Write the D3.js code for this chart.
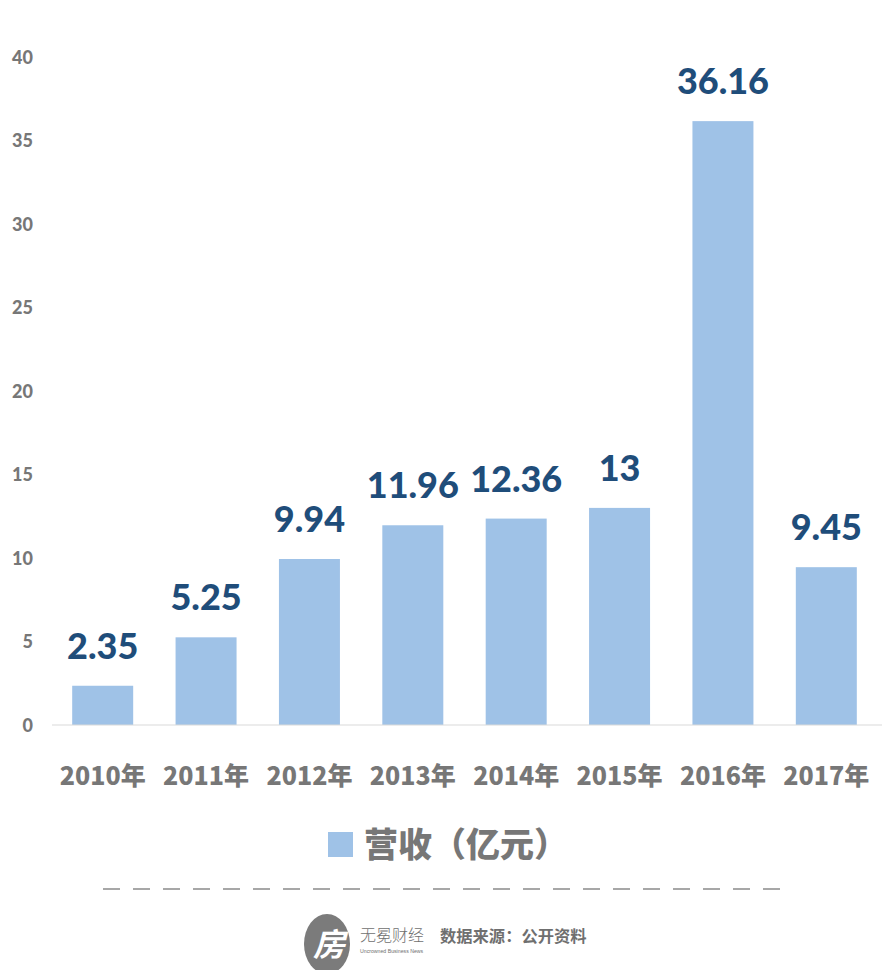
<!DOCTYPE html>
<html><head><meta charset="utf-8">
<script src="https://cdn.jsdelivr.net/npm/d3@7"></script>
<style>
html,body{margin:0;padding:0;background:#fff;}
svg{display:block;}
</style></head>
<body>
<script>
const categories = ["2010年","2011年","2012年","2013年","2014年","2015年","2016年","2017年"];
const revenue = [2.35, 5.25, 9.94, 11.96, 12.36, 13, 36.16, 9.45];
const valueLabels = ["2.35","5.25","9.94","11.96","12.36","13","36.16","9.45"];
const yTicks = [0,5,10,15,20,25,30,35,40];
const seriesName = "营收（亿元）";
const sourceText = "数据来源：公开资料";
const brandName = "无冕财经";
const brandSub = "Uncrowned Business News";

const W = 890, H = 970;
const svg = d3.select("body").append("svg").attr("width", W).attr("height", H);

const x = d3.scaleBand().domain(categories).range([51, 878]).paddingInner(0.41).paddingOuter(0.205);
const y = d3.scaleLinear().domain([0, 40]).range([725, 57]);

const barColor = "#9fc2e7";
const gray = "#777777";
const cjk = "'Noto Sans CJK SC', 'Noto Sans', sans-serif";

// y axis (no line)
const yAxis = d3.axisLeft(y).tickValues(yTicks).tickSize(0).tickPadding(0).tickFormat(d3.format("d"));
const gy = svg.append("g").attr("transform", "translate(33,0)").call(yAxis);
gy.select(".domain").remove();
gy.selectAll("text").attr("font-family", "Lato, 'Noto Sans', sans-serif").attr("font-weight", 900)
  .attr("font-size", 18).attr("fill", gray).attr("dy", "0.35em");

// bars
svg.append("g").selectAll("rect").data(revenue).join("rect")
  .attr("x", (d,i) => x(categories[i]))
  .attr("width", x.bandwidth())
  .attr("y", d => y(d))
  .attr("height", d => y(0) - y(d))
  .attr("fill", barColor);

// x axis
const xAxis = d3.axisBottom(x).tickSize(0).tickPadding(0);
const gx = svg.append("g").attr("transform", `translate(0,${y(0)})`).call(xAxis);
gx.select(".domain").attr("stroke", "#d9d9d9").attr("stroke-width", 1.2).attr("d", "M52,0H882");
gx.selectAll("text").attr("font-family", cjk).attr("font-weight", 900)
  .attr("font-size", 25).attr("fill", gray).attr("dy", "2.4em");

// value labels
svg.append("g").selectAll("text").data(revenue).join("text")
  .attr("x", (d,i) => x(categories[i]) + x.bandwidth()/2)
  .attr("y", d => y(d) - 27)
  .attr("text-anchor", "middle")
  .attr("font-family", "Lato, 'Noto Sans', sans-serif")
  .attr("font-weight", 900)
  .attr("font-size", 36)
  .attr("fill", "#1f4d7a")
  .text((d,i) => valueLabels[i]);

// legend
svg.append("rect").attr("x", 328).attr("y", 832).attr("width", 25).attr("height", 25).attr("fill", barColor);
svg.append("text").attr("x", 364).attr("y", 857).attr("font-family", cjk).attr("font-weight", 900)
  .attr("font-size", 34).attr("fill", gray).text(seriesName);

// dashed separator
svg.append("line").attr("x1", 103).attr("x2", 786).attr("y1", 889).attr("y2", 889)
  .attr("stroke", "#8a8a8a").attr("stroke-width", 1.5).attr("stroke-dasharray", "17,13");

// logo
const logo = svg.append("g");
logo.append("ellipse").attr("cx", 327).attr("cy", 944).attr("rx", 23).attr("ry", 30).attr("fill", "#7b7b7b");
logo.append("text").attr("x", 329).attr("y", 956).attr("text-anchor", "middle").attr("font-family", cjk)
  .attr("font-weight", 700).attr("font-size", 32).attr("fill", "#fff").attr("font-style", "italic").text("房");
logo.append("text").attr("x", 360).attr("y", 941).attr("font-family", cjk).attr("font-weight", 300)
  .attr("font-size", 16).attr("fill", "#6f6f6f").text(brandName);
logo.append("text").attr("x", 360).attr("y", 953).attr("font-family", "'Liberation Sans', sans-serif")
  .attr("font-size", 5.2).attr("fill", "#6f6f6f").text(brandSub);
svg.append("text").attr("x", 440).attr("y", 942).attr("font-family", cjk).attr("font-weight", 700)
  .attr("font-size", 16.3).attr("fill", "#6f6f6f").text(sourceText);
</script>
</body></html>
